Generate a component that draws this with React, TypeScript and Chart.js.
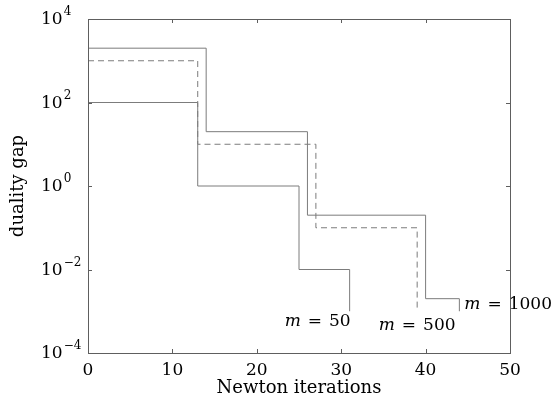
import React, { useEffect, useRef } from "react";
import { Chart, registerables } from "chart.js";

Chart.register(...registerables);

// ---- data ----
const iterM50 = [0, 13, 25, 31];
const gapM50 = [100, 1, 0.01, 0.001];
const iterM500 = [0, 13, 27, 39];
const gapM500 = [1000, 10, 0.1, 0.001];
const iterM1000 = [0, 14, 26, 40, 44];
const gapM1000 = [2000, 20, 0.2, 0.002, 0.001];
const mValues = ["50", "500", "1000"];
const yTickValues = [1e-4, 1e-2, 1, 1e2, 1e4];
const yTickExponents = ["−4", "−2", "0", "2", "4"];
const xTitle = "Newton iterations";
const yTitle = "duality gap";

const FONT = '"DejaVu Serif", "Liberation Serif", serif';
const LINE = "#7c7c7c";
const FRAME = "#5e5e5e";

const toPoints = (xs: number[], ys: number[]) => xs.map((x, i) => ({ x, y: ys[i] }));

const framePlugin = {
  id: "frameTicks",
  afterDatasetsDraw(chart: any) {
    const { ctx, chartArea: a, scales } = chart;
    ctx.save();
    ctx.strokeStyle = FRAME;
    ctx.lineWidth = 1;
    ctx.strokeRect(a.left + 0.5, a.top + 0.5, a.right - a.left, a.bottom - a.top);
    const len = 4;
    ctx.beginPath();
    scales.x.ticks.forEach((t: any) => {
      const px = Math.round(scales.x.getPixelForValue(t.value)) + 0.5;
      if (px <= a.left + 1 || px >= a.right - 1) return;
      ctx.moveTo(px, a.bottom);
      ctx.lineTo(px, a.bottom - len);
      ctx.moveTo(px, a.top);
      ctx.lineTo(px, a.top + len);
    });
    yTickValues.forEach((v) => {
      const py = Math.round(scales.y.getPixelForValue(v)) + 0.5;
      if (py <= a.top + 1 || py >= a.bottom - 1) return;
      ctx.moveTo(a.left, py);
      ctx.lineTo(a.left + len, py);
      ctx.moveTo(a.right, py);
      ctx.lineTo(a.right - len, py);
    });
    ctx.stroke();

    // y tick labels: "10" with raised exponent
    ctx.fillStyle = "#000";
    ctx.textBaseline = "middle";
    ctx.textAlign = "left";
    yTickValues.forEach((v, i) => {
      const py = scales.y.getPixelForValue(v);
      const x0 = a.left - 47;
      ctx.font = `17px ${FONT}`;
      ctx.fillText("10", x0, py + 1);
      const w = ctx.measureText("10").width;
      ctx.font = `12px ${FONT}`;
      ctx.fillText(yTickExponents[i], x0 + w + 1, py - 7);
    });
    ctx.restore();
  },
};

const placements = ["right", "center", "left"];

const labelPlugin = {
  id: "seriesLabels",
  afterDraw(chart: any) {
    const { ctx } = chart;
    ctx.save();
    ctx.fillStyle = "#000";
    ctx.textBaseline = "alphabetic";
    ctx.textAlign = "left";
    const italic = `italic 17px ${FONT}`;
    const normal = `17px ${FONT}`;
    const gap = 7;
    chart.data.datasets.forEach((ds: any, i: number) => {
      const meta = chart.getDatasetMeta(i);
      const pt = meta.data[meta.data.length - 1];
      ctx.font = italic;
      const wm = ctx.measureText("m").width;
      ctx.font = normal;
      const we = ctx.measureText("=").width;
      const wn = ctx.measureText(mValues[i]).width;
      const w = wm + gap + we + gap + wn;
      let x0 = pt.x;
      let y0 = pt.y;
      const p = placements[i];
      if (p === "right") {
        x0 = pt.x + 1 - w;
        y0 = pt.y + 15;
      } else if (p === "center") {
        x0 = pt.x - w / 2;
        y0 = pt.y + 18.5;
      } else {
        x0 = pt.x + 5;
        y0 = pt.y - 2;
      }
      ctx.font = italic;
      ctx.fillText("m", x0, y0);
      ctx.font = normal;
      ctx.fillText("=", x0 + wm + gap, y0);
      ctx.fillText(mValues[i], x0 + wm + gap + we + gap, y0);
    });
    ctx.restore();
  },
};

export default function App() {
  const ref = useRef<HTMLCanvasElement>(null);
  useEffect(() => {
    document.body.style.margin = "0";
    const canvas = ref.current!;
    const chart = new Chart(canvas, {
      type: "scatter",
      data: {
        datasets: [
          {
            label: "m = 50",
            data: toPoints(iterM50, gapM50),
            showLine: true,
            stepped: "before",
            borderColor: LINE,
            borderWidth: 1,
            pointRadius: 0,
            fill: false,
          },
          {
            label: "m = 500",
            data: toPoints(iterM500, gapM500),
            showLine: true,
            stepped: "before",
            borderColor: LINE,
            borderWidth: 1,
            borderDash: [6, 4],
            pointRadius: 0,
            fill: false,
          },
          {
            label: "m = 1000",
            data: toPoints(iterM1000, gapM1000),
            showLine: true,
            stepped: "before",
            borderColor: LINE,
            borderWidth: 1,
            pointRadius: 0,
            fill: false,
          },
        ],
      } as any,
      options: {
        animation: false,
        responsive: false,
        maintainAspectRatio: false,
        layout: { padding: { top: 19, right: 45, bottom: 0, left: 0 } },
        plugins: { legend: { display: false }, tooltip: { enabled: false } },
        scales: {
          x: {
            type: "linear",
            min: 0,
            max: 50,
            grid: { display: false, drawTicks: false },
            border: { display: false },
            ticks: {
              stepSize: 10,
              color: "#000",
              padding: 7,
              font: { family: FONT, size: 17 },
            },
            title: {
              display: true,
              text: xTitle,
              color: "#000",
              font: { family: FONT, size: 18 },
              padding: { top: 0, bottom: 0 },
            },
            afterFit: (s: any) => {
              s.height = 46;
            },
          },
          y: {
            type: "logarithmic",
            min: 1e-4,
            max: 1e4,
            grid: { display: false, drawTicks: false },
            border: { display: false },
            afterBuildTicks: (s: any) => {
              s.ticks = yTickValues.map((v) => ({ value: v }));
            },
            ticks: { display: false },
            title: {
              display: true,
              text: yTitle,
              color: "#000",
              font: { family: FONT, size: 18 },
              padding: { top: 8, bottom: 0 },
            },
            afterFit: (s: any) => {
              s.width = 88;
            },
          },
        },
      } as any,
      plugins: [framePlugin, labelPlugin],
    });
    return () => chart.destroy();
  }, []);
  return (
    <div style={{ width: 555, height: 399 }}>
      <canvas ref={ref} width={555} height={399} style={{ display: "block" }} />
    </div>
  );
}
